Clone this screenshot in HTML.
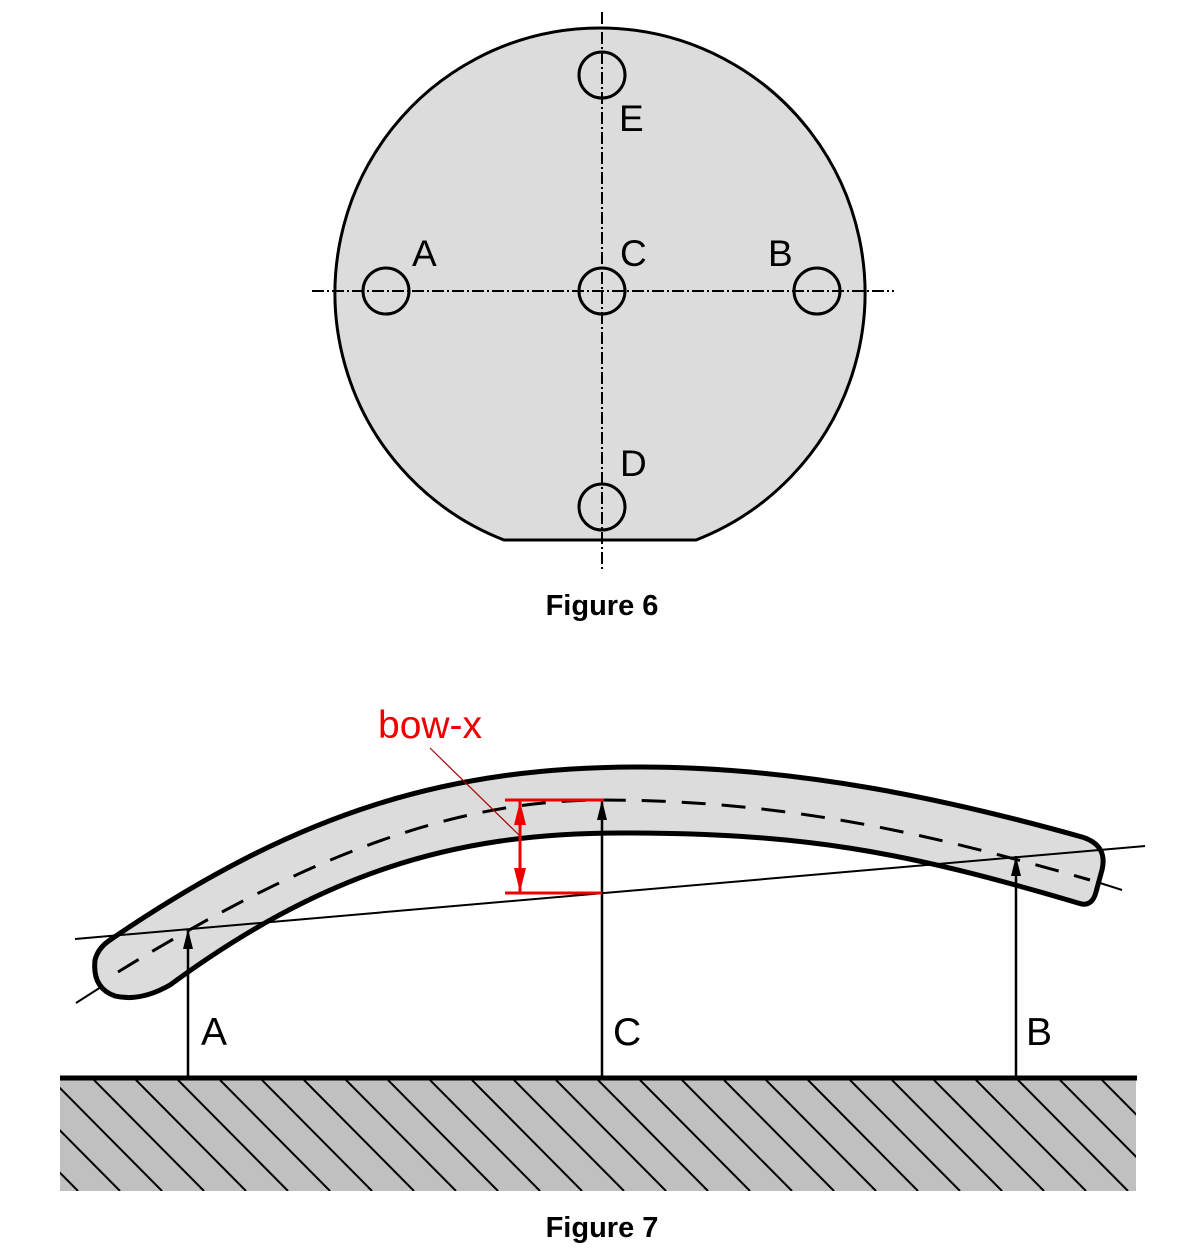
<!DOCTYPE html>
<html><head><meta charset="utf-8"><style>html,body{margin:0;padding:0;background:#fff}svg{display:block}</style></head>
<body>
<svg width="1200" height="1258" viewBox="0 0 1200 1258" xmlns="http://www.w3.org/2000/svg" font-family="Liberation Sans, Arial, sans-serif">
<defs>
<marker id="ab" markerWidth="20" markerHeight="10" refX="20" refY="5" orient="auto-start-reverse" markerUnits="userSpaceOnUse" viewBox="0 0 20 10"><path d="M0,0 L20,5 L0,10 Z" fill="#000"/></marker>
<marker id="ar" markerWidth="24" markerHeight="12" refX="24" refY="6" orient="auto-start-reverse" markerUnits="userSpaceOnUse" viewBox="0 0 24 12"><path d="M0,0 L24,6 L0,12 Z" fill="#e00"/></marker>
<clipPath id="hc"><rect x="60" y="1080" width="1076" height="111"/></clipPath>
</defs>
<!-- Figure 6 -->
<path d="M504,540 A265,265 0 1,1 696,540 Z" fill="#dcdcdc" stroke="#000" stroke-width="3"/>
<g stroke="#000" stroke-width="2" fill="none" stroke-dasharray="12,3,2,3">
<line x1="602" y1="12" x2="602" y2="570"/>
<line x1="312" y1="291" x2="894" y2="291"/>
</g>
<g stroke="#000" stroke-width="3" fill="none">
<circle cx="602" cy="75" r="23"/>
<circle cx="602" cy="291" r="23"/>
<circle cx="386" cy="291" r="23"/>
<circle cx="817" cy="291" r="23"/>
<circle cx="602" cy="507" r="23"/>
</g>
<g font-size="37" fill="#000">
<text x="619" y="131">E</text>
<text x="412" y="266">A</text>
<text x="620" y="266">C</text>
<text x="768" y="266">B</text>
<text x="620" y="476">D</text>
</g>
<text x="602" y="615" font-size="29" font-weight="bold" text-anchor="middle">Figure 6</text>
<!-- Figure 7 -->
<rect x="60" y="1080" width="1076" height="111" fill="#c0c0c0"/>
<g clip-path="url(#hc)" stroke="#000" stroke-width="2">
<path d="M-200,1080 l110,111 M-158,1080 l110,111 M-116,1080 l110,111 M-74,1080 l110,111 M-32,1080 l110,111 M10,1080 l110,111 M52,1080 l110,111 M94,1080 l110,111 M136,1080 l110,111 M178,1080 l110,111 M220,1080 l110,111 M262,1080 l110,111 M304,1080 l110,111 M346,1080 l110,111 M388,1080 l110,111 M430,1080 l110,111 M472,1080 l110,111 M514,1080 l110,111 M556,1080 l110,111 M598,1080 l110,111 M640,1080 l110,111 M682,1080 l110,111 M724,1080 l110,111 M766,1080 l110,111 M808,1080 l110,111 M850,1080 l110,111 M892,1080 l110,111 M934,1080 l110,111 M976,1080 l110,111 M1018,1080 l110,111 M1060,1080 l110,111 M1102,1080 l110,111"/>
</g>
<line x1="60" y1="1078" x2="1137" y2="1078" stroke="#000" stroke-width="5"/>
<!-- wafer -->
<path d="M110,940 C300,810 450,767 640,767 C800,767 950,800 1082,837 Q1108,845 1102,870 L1096,892 Q1092,908 1078,903 C900,850 800,833 620,833 C450,833 320,875 170,985 Q140,1002 115,996 Q92,988 95,960 Q98,948 110,940 Z" fill="#dcdcdc" stroke="#000" stroke-width="5" stroke-linejoin="round"/>
<path d="M118,972 C300,860 450,800 602,800 C800,800 950,840 1090,880" fill="none" stroke="#000" stroke-width="3" stroke-dasharray="24,16"/>
<line x1="76" y1="1003" x2="101" y2="987" stroke="#000" stroke-width="2"/>
<line x1="1100" y1="883" x2="1122" y2="890" stroke="#000" stroke-width="2"/>
<line x1="75" y1="939" x2="1145" y2="846" stroke="#000" stroke-width="2"/>
<!-- arrows -->
<g stroke="#000" stroke-width="2.5">
<line x1="188" y1="1078" x2="188" y2="929" marker-end="url(#ab)"/>
<line x1="602" y1="1078" x2="602" y2="800" marker-end="url(#ab)"/>
<line x1="1016" y1="1078" x2="1016" y2="856" marker-end="url(#ab)"/>
</g>
<!-- red -->
<g stroke="#e00" stroke-width="3">
<line x1="505" y1="800" x2="604" y2="800"/>
<line x1="505" y1="893" x2="602" y2="893"/>
<line x1="520" y1="801" x2="520" y2="892" marker-start="url(#ar)" marker-end="url(#ar)"/>
</g>
<line x1="430" y1="748" x2="520" y2="836" stroke="#a00" stroke-width="1.2"/>
<text x="378" y="738" font-size="39" fill="#e00">bow-x</text>
<g font-size="39" fill="#000">
<text x="201" y="1045">A</text>
<text x="613" y="1045">C</text>
<text x="1026" y="1045">B</text>
</g>
<text x="602" y="1237" font-size="29" font-weight="bold" text-anchor="middle">Figure 7</text>
</svg>
</body></html>
